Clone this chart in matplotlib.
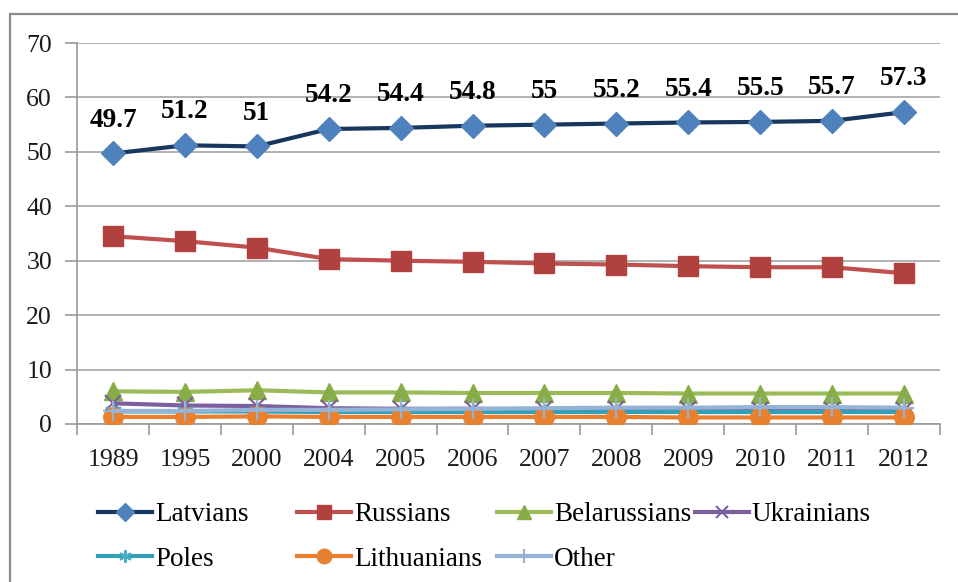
import matplotlib
matplotlib.use("Agg")
import matplotlib.pyplot as plt
from matplotlib.patches import Rectangle
import numpy as np

years = ["1989", "1995", "2000", "2004", "2005", "2006", "2007", "2008", "2009", "2010", "2011", "2012"]
latvians = [49.7, 51.2, 51.0, 54.2, 54.4, 54.8, 55.0, 55.2, 55.4, 55.5, 55.7, 57.3]
russians = [34.5, 33.6, 32.4, 30.3, 30.0, 29.8, 29.5, 29.3, 29.0, 28.8, 28.8, 27.7]
belarussians = [6.0, 5.9, 6.2, 5.8, 5.8, 5.7, 5.7, 5.7, 5.6, 5.6, 5.6, 5.6]
ukrainians = [3.8, 3.4, 3.3, 2.9, 2.8, 2.8, 2.7, 2.7, 2.7, 2.6, 2.6, 2.5]
poles = [2.3, 2.3, 2.3, 2.2, 2.2, 2.2, 2.2, 2.2, 2.2, 2.2, 2.2, 2.2]
lithuanians = [1.3, 1.3, 1.4, 1.3, 1.3, 1.3, 1.3, 1.3, 1.2, 1.2, 1.2, 1.2]
other = [2.4, 2.4, 2.6, 2.6, 2.7, 2.8, 2.9, 3.0, 3.0, 3.1, 3.1, 3.0]
yticks = [0, 10, 20, 30, 40, 50, 60, 70]

plt.rcParams['font.family'] = ['Liberation Serif', 'DejaVu Serif']

W, H = 958, 582
fig = plt.figure(figsize=(W / 100, H / 100), dpi=100)
fig.patches.append(Rectangle((10 / W, -0.1), 1.2, 1 - 14 / H + 0.1, transform=fig.transFigure,
                             fill=False, edgecolor='#8a8a8a', linewidth=1.6))

ax = fig.add_axes([77 / W, 1 - 424 / H, (940 - 77) / W, (424 - 43) / H])
x = np.arange(len(years))

series = [
    ("Latvians", latvians, dict(color='#17375E', marker='D', ms=12, mfc='#4F81BD', mec='#4F81BD', lw=3)),
    ("Russians", russians, dict(color='#C0504D', marker='s', ms=14, mfc='#B0413E', mec='#B0413E', lw=3)),
    ("Belarussians", belarussians, dict(color='#9BBB59', marker='^', ms=13, mfc='#88AC46', mec='#88AC46', lw=3)),
    ("Ukrainians", ukrainians, dict(color='#7D5FA0', marker='x', ms=12, mec='#7D5FA0', mew=1.5, lw=3)),
    ("Poles", poles, dict(color='#31A0B8', marker=(6, 2, 0), ms=12, mec='#4BACC6', mew=1.5, lw=3)),
    ("Lithuanians", lithuanians, dict(color='#E97E2E', marker='o', ms=14, mfc='#E8812F', mec='#E8812F', lw=3)),
    ("Other", other, dict(color='#95B3D7', marker='+', ms=14, mec='#95B3D7', mew=1.5, lw=3)),
]
handles = {}
for name, vals, kw in series:
    h, = ax.plot(x, vals, label=name, zorder=3, **kw)
    handles[name] = h

for xi, v in zip(x, latvians):
    ax.annotate(f"{v:g}", (xi, v), xytext=(0, 24), textcoords='offset points',
                ha='center', va='center', fontsize=19.5, fontweight='bold', color='black')

ax.set_xlim(-0.5, len(years) - 0.5)
ax.set_ylim(0, 70)
ax.set_yticks(yticks)
ax.set_xticks(x)
ax.set_xticklabels(years)
ax.set_xticks(np.arange(-0.5, len(years), 1.0), minor=True)
ax.tick_params(axis='x', which='major', length=0, pad=18, labelsize=18.5, labelcolor='#1a1a1a')
ax.tick_params(axis='x', which='minor', length=8, color='#9a9a9a', width=1.2)
ax.tick_params(axis='y', length=9, color='#9a9a9a', width=1.2, pad=9, labelsize=18.5, labelcolor='#1a1a1a')
ax.grid(axis='y', color='#ababab', linewidth=1.3)
ax.set_axisbelow(True)
for s in ['top', 'right']:
    ax.spines[s].set_visible(False)
for s in ['left', 'bottom']:
    ax.spines[s].set_color('#9a9a9a')
    ax.spines[s].set_linewidth(1.2)

columns = [["Latvians", "Poles"], ["Russians", "Lithuanians"], ["Belarussians", "Other"], ["Ukrainians"]]
col_x = [98, 297, 497, 695]
for names, cx in zip(columns, col_x):
    fig.legend([handles[n] for n in names], names, loc='upper left',
               bbox_to_anchor=(cx / W, 1 - 502 / H), bbox_transform=fig.transFigure,
               frameon=False, fontsize=19.5, handlelength=2.0, handletextpad=0.1,
               borderpad=0, borderaxespad=0, labelspacing=0.72, markerscale=0.75)

fig.savefig("out.png", dpi=100)
